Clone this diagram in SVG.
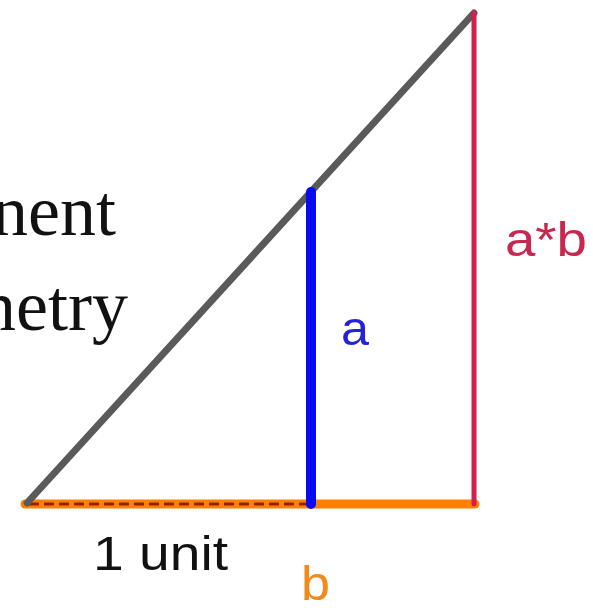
<svg xmlns="http://www.w3.org/2000/svg" width="593" height="613" viewBox="0 0 593 613">
<style>
.serif{font-family:"Liberation Serif",serif;font-size:72px;fill:#111;text-anchor:end}
.sans{font-family:"Liberation Sans",Arial,sans-serif;font-size:48px}
</style>
<rect width="593" height="613" fill="#fff"/>
<g id="title">
<text class="serif" x="116" y="235">nent</text>
<text class="serif" x="128" y="330">netry</text>
</g>
<g id="connectors" stroke-linecap="round" fill="none">
<line id="base" x1="25" y1="504" x2="475" y2="504" stroke="#ff8000" stroke-width="9"/>
<line id="unit-dash" x1="29" y1="504" x2="309" y2="504" stroke="#8e2408" stroke-width="3" stroke-dasharray="10 5" stroke-linecap="butt"/>
<line id="hyp" x1="27" y1="503" x2="474" y2="13" stroke="#5a5a5a" stroke-width="7"/>
<line id="ab-side" x1="474" y1="13" x2="474" y2="504" stroke="#d11f4e" stroke-width="5"/>
<line id="a-side" x1="311" y1="192" x2="311" y2="504" stroke="#0a0af0" stroke-width="10"/>
</g>
<g id="labels" class="sans">
<text class="sans" x="341" y="345" fill="#2323d8" textLength="28" lengthAdjust="spacingAndGlyphs">a</text>
<text class="sans" x="505" y="256" fill="#c8284f" textLength="82" lengthAdjust="spacingAndGlyphs">a*b</text>
<text class="sans" x="93" y="570" fill="#111" textLength="135" lengthAdjust="spacingAndGlyphs">1 unit</text>
<text class="sans" x="301" y="600" fill="#f08a1a" textLength="29" lengthAdjust="spacingAndGlyphs">b</text>
</g>
</svg>
